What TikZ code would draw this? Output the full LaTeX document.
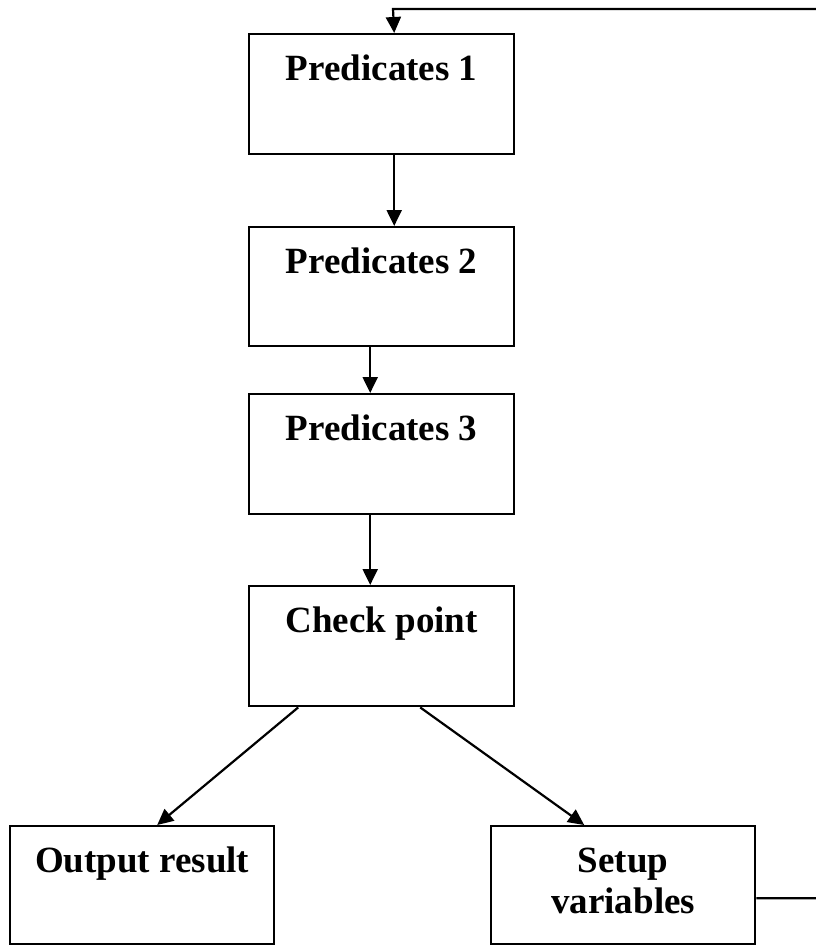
\documentclass[tikz,border=0pt]{standalone}
\usepackage{fontspec}
\setmainfont{Liberation Serif}
\usetikzlibrary{arrows.meta,calc}
\begin{document}
\begin{tikzpicture}[x=1pt,y=-1pt,
  box/.style={draw=black,line width=2.4pt,minimum width=265pt,minimum height=120pt,inner sep=0pt,anchor=north west},
  lbl/.style={font=\fontsize{37}{41}\selectfont\bfseries,inner sep=0pt,anchor=base,align=center},
  arr/.style={line width=2.2pt,-{Triangle[length=16pt,width=15pt]}},
  ln/.style={line width=2.2pt}]
\useasboundingbox (0,0) rectangle (816,945);
\node[box] (b1) at (248,33) {};
\node[box,minimum height=119pt] (b2) at (248,226) {};
\node[box] (b3) at (248,393) {};
\node[box] (b4) at (248,585) {};
\node[box,minimum width=264pt,minimum height=118pt] (out) at (9,825) {};
\node[box,minimum width=264pt,minimum height=118pt] (set) at (490,825) {};
\node[lbl] (t1) at ([yshift=-47pt]b1.north) {Predicates 1};
\node[lbl] (t2) at ([yshift=-47pt]b2.north) {Predicates 2};
\node[lbl] (t3) at ([yshift=-47pt]b3.north) {Predicates 3};
\node[lbl] (t4) at ([yshift=-47pt]b4.north) {Check point};
\node[lbl] (t5) at ([yshift=-47pt]out.north) {Output result};
\node[lbl] (t6) at ([yshift=-88pt]set.north) {Setup\\variables};
\draw[arr] ([xshift=12.5pt]b1.south) -- ([xshift=12.5pt]b2.north);
\draw[arr] ([xshift=-11.5pt]b2.south) -- ([xshift=-11.5pt]b3.north);
\draw[arr] ([xshift=-11.5pt]b3.south) -- ([xshift=-11.5pt]b4.north);
\draw[arr] ([xshift=-83.5pt]b4.south) -- ([xshift=15pt]out.north);
\draw[arr] ([xshift=38.5pt]b4.south) -- ([xshift=-39pt]set.north);
\coordinate (s) at ([yshift=-13pt]set.east);
\coordinate (r2) at (820,9);
\coordinate (r3) at (393,9);
\draw[arr] (s) -- (r2 |- s) -- (r2) -- (r3) -- ([xshift=12.5pt]b1.north);
\end{tikzpicture}
\end{document}
